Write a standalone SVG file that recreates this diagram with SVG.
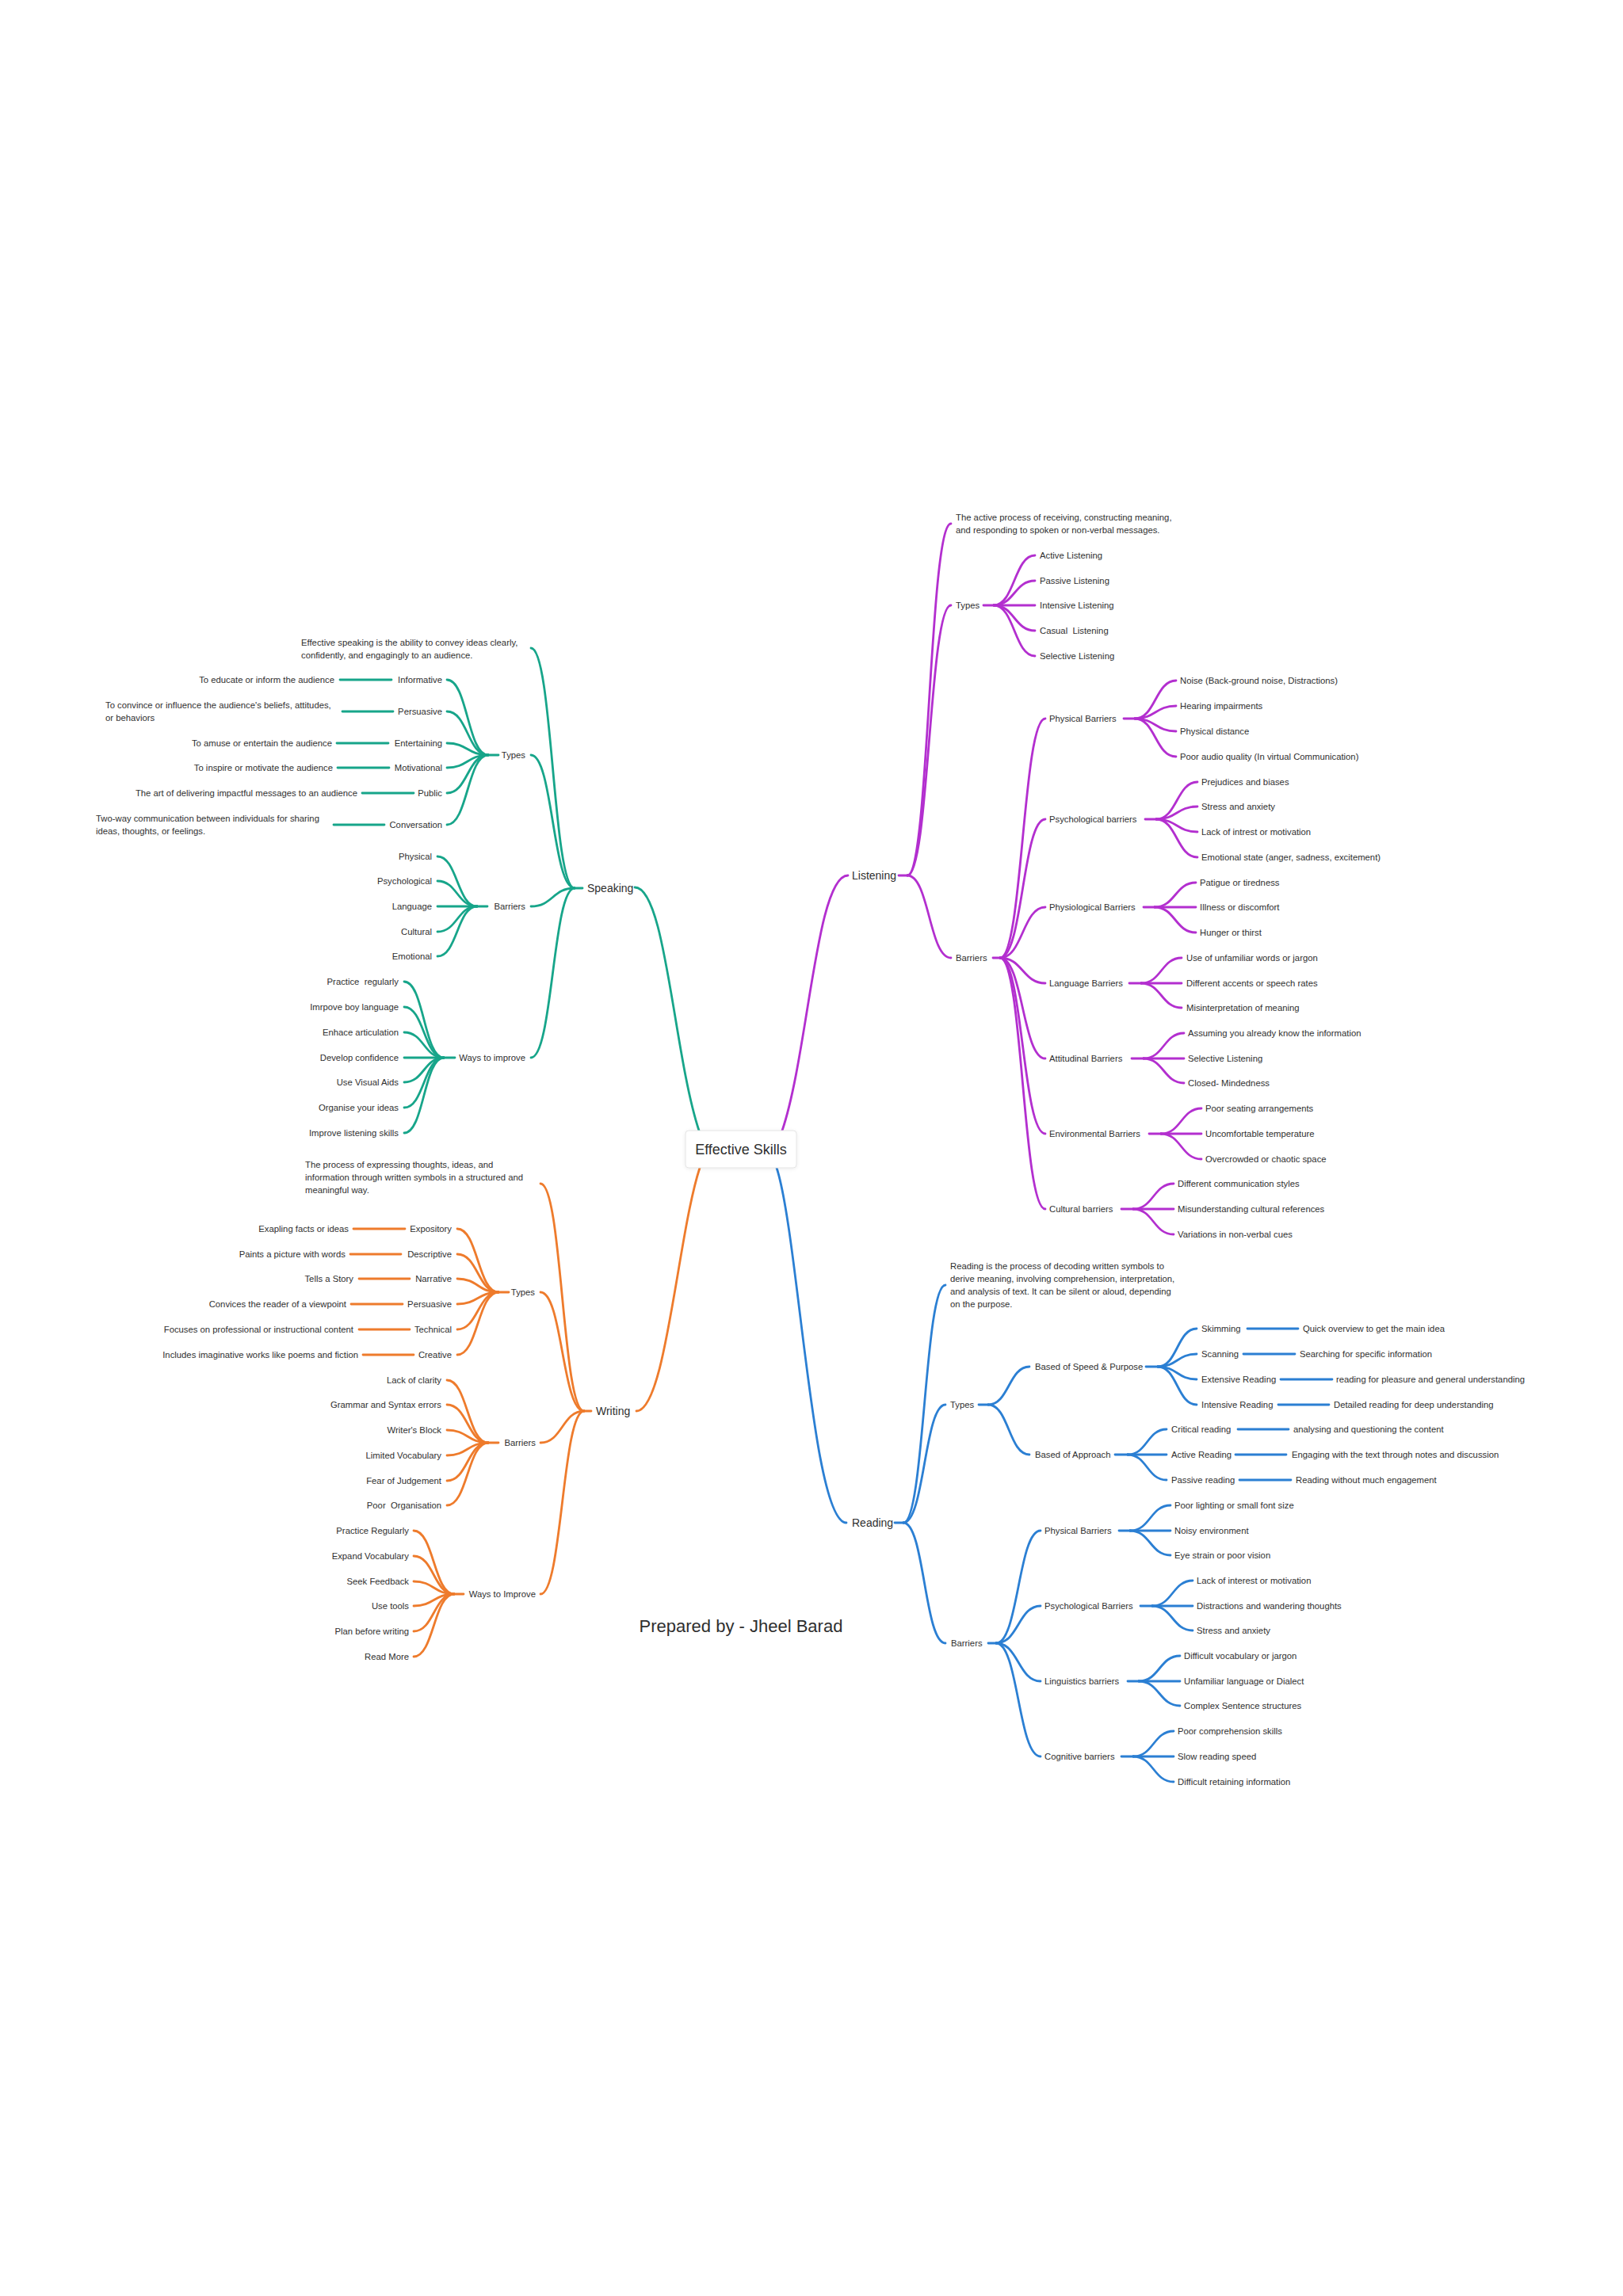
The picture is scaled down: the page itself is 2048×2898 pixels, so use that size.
<svg xmlns="http://www.w3.org/2000/svg" width="2048" height="2898" viewBox="0 0 2048 2898">
<style>
.t{font-family:"Liberation Sans",Arial,sans-serif;font-size:11.3px;fill:#2f2f2f;dominant-baseline:central}
.e{text-anchor:end}
.m{font-size:14px}
.c{fill:none;stroke-width:2.8;stroke-linecap:round}
.p{stroke:#b32fcf}.g{stroke:#17a58a}.o{stroke:#ee7b2c}.b{stroke:#2b7fd3}
</style>
<defs>
<filter id="sh" x="-20%" y="-30%" width="140%" height="160%"><feDropShadow dx="0" dy="1" stdDeviation="2" flood-color="#000" flood-opacity="0.08"/></filter>
</defs>
<rect width="2048" height="2898" fill="#fff"/>
<g id="connectors">
<g class="c p">
<path d="M1070 1105 C1030 1105 1020 1330 987 1427"/>
<path d="M1134 1105 H1145"/>
<path d="M1145 1105 C1172.5 1105 1172.5 661 1200 661"/>
<path d="M1145 1105 C1172.5 1105 1172.5 764 1200 764"/>
<path d="M1145 1105 C1172.5 1105 1172.5 1209 1200 1209"/>
<path d="M1241 764 H1254"/>
<path d="M1254 764 C1280 764 1280 701 1306 701"/>
<path d="M1254 764 C1280 764 1280 733 1306 733"/>
<path d="M1254 764 H1306"/>
<path d="M1254 764 C1280 764 1280 796 1306 796"/>
<path d="M1254 764 C1280 764 1280 828 1306 828"/>
<path d="M1253 1209 H1262"/>
<path d="M1262 1209 C1290.5 1209 1290.5 907 1319 907"/>
<path d="M1262 1209 C1290.5 1209 1290.5 1034 1319 1034"/>
<path d="M1262 1209 C1290.5 1209 1290.5 1145 1319 1145"/>
<path d="M1262 1209 C1290.5 1209 1290.5 1241 1319 1241"/>
<path d="M1262 1209 C1290.5 1209 1290.5 1336 1319 1336"/>
<path d="M1262 1209 C1290.5 1209 1290.5 1431 1319 1431"/>
<path d="M1262 1209 C1290.5 1209 1290.5 1526 1319 1526"/>
<path d="M1418 907 H1432"/>
<path d="M1432 907 C1458 907 1458 859 1484 859"/>
<path d="M1432 907 C1458 907 1458 891 1484 891"/>
<path d="M1432 907 C1458 907 1458 923 1484 923"/>
<path d="M1432 907 C1458 907 1458 955 1484 955"/>
<path d="M1445 1034 H1459"/>
<path d="M1459 1034 C1485 1034 1485 987 1511 987"/>
<path d="M1459 1034 C1485 1034 1485 1018 1511 1018"/>
<path d="M1459 1034 C1485 1034 1485 1050 1511 1050"/>
<path d="M1459 1034 C1485 1034 1485 1082 1511 1082"/>
<path d="M1443 1145 H1457"/>
<path d="M1457 1145 C1483 1145 1483 1114 1509 1114"/>
<path d="M1457 1145 H1509"/>
<path d="M1457 1145 C1483 1145 1483 1177 1509 1177"/>
<path d="M1425 1241 H1440"/>
<path d="M1440 1241 C1465.5 1241 1465.5 1209 1491 1209"/>
<path d="M1440 1241 H1491"/>
<path d="M1440 1241 C1465.5 1241 1465.5 1272 1491 1272"/>
<path d="M1428 1336 H1443"/>
<path d="M1443 1336 C1468.5 1336 1468.5 1304 1494 1304"/>
<path d="M1443 1336 H1494"/>
<path d="M1443 1336 C1468.5 1336 1468.5 1367 1494 1367"/>
<path d="M1450 1431 H1465"/>
<path d="M1465 1431 C1490.5 1431 1490.5 1399 1516 1399"/>
<path d="M1465 1431 H1516"/>
<path d="M1465 1431 C1490.5 1431 1490.5 1463 1516 1463"/>
<path d="M1415 1526 H1430"/>
<path d="M1430 1526 C1455.5 1526 1455.5 1494 1481 1494"/>
<path d="M1430 1526 H1481"/>
<path d="M1430 1526 C1455.5 1526 1455.5 1558 1481 1558"/>
</g>
<g class="c g">
<path d="M801 1120 C840 1120 850 1330 882 1427"/>
<path d="M735 1121 H725"/>
<path d="M725 1121 C697.5 1121 697.5 818 670 818"/>
<path d="M725 1121 C697.5 1121 697.5 953 670 953"/>
<path d="M725 1121 C697.5 1121 697.5 1144 670 1144"/>
<path d="M725 1121 C697.5 1121 697.5 1335 670 1335"/>
<path d="M629 953 H616"/>
<path d="M616 953 C590 953 590 858 564 858"/>
<path d="M616 953 C590 953 590 898 564 898"/>
<path d="M616 953 C590 953 590 938 564 938"/>
<path d="M616 953 C590 953 590 969 564 969"/>
<path d="M616 953 C590 953 590 1001 564 1001"/>
<path d="M616 953 C590 953 590 1041 564 1041"/>
<path d="M429 858 H494"/><path d="M432 898 H496"/><path d="M425 938 H490"/>
<path d="M426 969 H491"/><path d="M457 1001 H522"/><path d="M421 1041 H485"/>
<path d="M615 1144 H602"/>
<path d="M602 1144 C577 1144 577 1081 552 1081"/>
<path d="M602 1144 C577 1144 577 1112 552 1112"/>
<path d="M602 1144 H552"/>
<path d="M602 1144 C577 1144 577 1176 552 1176"/>
<path d="M602 1144 C577 1144 577 1207 552 1207"/>
<path d="M574 1335 H560"/>
<path d="M560 1335 C535 1335 535 1239 510 1239"/>
<path d="M560 1335 C535 1335 535 1271 510 1271"/>
<path d="M560 1335 C535 1335 535 1303 510 1303"/>
<path d="M560 1335 H510"/>
<path d="M560 1335 C535 1335 535 1366 510 1366"/>
<path d="M560 1335 C535 1335 535 1398 510 1398"/>
<path d="M560 1335 C535 1335 535 1430 510 1430"/>
</g>
<g class="c o">
<path d="M883 1474 C855 1560 840 1781 803 1781"/>
<path d="M746 1781 H737"/>
<path d="M737 1781 C709.5 1781 709.5 1494 682 1494"/>
<path d="M737 1781 C709.5 1781 709.5 1631 682 1631"/>
<path d="M737 1781 C709.5 1781 709.5 1821 682 1821"/>
<path d="M737 1781 C709.5 1781 709.5 2012 682 2012"/>
<path d="M642 1631 H629"/>
<path d="M629 1631 C603 1631 603 1551 577 1551"/>
<path d="M629 1631 C603 1631 603 1583 577 1583"/>
<path d="M629 1631 C603 1631 603 1614 577 1614"/>
<path d="M629 1631 C603 1631 603 1646 577 1646"/>
<path d="M629 1631 C603 1631 603 1678 577 1678"/>
<path d="M629 1631 C603 1631 603 1710 577 1710"/>
<path d="M446 1551 H511"/><path d="M442 1583 H506"/><path d="M453 1614 H517"/>
<path d="M443 1646 H508"/><path d="M453 1678 H517"/><path d="M458 1710 H522"/>
<path d="M629 1821 H616"/>
<path d="M616 1821 C590 1821 590 1742 564 1742"/>
<path d="M616 1821 C590 1821 590 1773 564 1773"/>
<path d="M616 1821 C590 1821 590 1805 564 1805"/>
<path d="M616 1821 C590 1821 590 1837 564 1837"/>
<path d="M616 1821 C590 1821 590 1869 564 1869"/>
<path d="M616 1821 C590 1821 590 1900 564 1900"/>
<path d="M585 2012 H573"/>
<path d="M573 2012 C547.5 2012 547.5 1932 522 1932"/>
<path d="M573 2012 C547.5 2012 547.5 1964 522 1964"/>
<path d="M573 2012 C547.5 2012 547.5 1996 522 1996"/>
<path d="M573 2012 C547.5 2012 547.5 2027 522 2027"/>
<path d="M573 2012 C547.5 2012 547.5 2059 522 2059"/>
<path d="M573 2012 C547.5 2012 547.5 2091 522 2091"/>
</g>
<g class="c b">
<path d="M980 1474 C1008 1560 1025 1922 1068 1922"/>
<path d="M1129 1922 H1140"/>
<path d="M1140 1922 C1166.5 1922 1166.5 1622 1193 1622"/>
<path d="M1140 1922 C1166.5 1922 1166.5 1773 1193 1773"/>
<path d="M1140 1922 C1166.5 1922 1166.5 2074 1193 2074"/>
<path d="M1235 1773 H1247"/>
<path d="M1247 1773 C1273 1773 1273 1725 1299 1725"/>
<path d="M1247 1773 C1273 1773 1273 1836 1299 1836"/>
<path d="M1446 1725 H1461"/>
<path d="M1461 1725 C1485.5 1725 1485.5 1677 1510 1677"/>
<path d="M1461 1725 C1485.5 1725 1485.5 1709 1510 1709"/>
<path d="M1461 1725 C1485.5 1725 1485.5 1741 1510 1741"/>
<path d="M1461 1725 C1485.5 1725 1485.5 1773 1510 1773"/>
<path d="M1574 1677 H1638"/><path d="M1569 1709 H1634"/><path d="M1616 1741 H1681"/><path d="M1613 1773 H1677"/>
<path d="M1407 1836 H1423"/>
<path d="M1423 1836 C1447.5 1836 1447.5 1804 1472 1804"/>
<path d="M1423 1836 H1472"/>
<path d="M1423 1836 C1447.5 1836 1447.5 1868 1472 1868"/>
<path d="M1562 1804 H1626"/><path d="M1559 1836 H1623"/><path d="M1564 1868 H1629"/>
<path d="M1247 2074 H1257"/>
<path d="M1257 2074 C1285 2074 1285 1932 1313 1932"/>
<path d="M1257 2074 C1285 2074 1285 2027 1313 2027"/>
<path d="M1257 2074 C1285 2074 1285 2122 1313 2122"/>
<path d="M1257 2074 C1285 2074 1285 2217 1313 2217"/>
<path d="M1412 1932 H1426"/>
<path d="M1426 1932 C1451.5 1932 1451.5 1900 1477 1900"/>
<path d="M1426 1932 H1477"/>
<path d="M1426 1932 C1451.5 1932 1451.5 1963 1477 1963"/>
<path d="M1439 2027 H1454"/>
<path d="M1454 2027 C1479.5 2027 1479.5 1995 1505 1995"/>
<path d="M1454 2027 H1505"/>
<path d="M1454 2027 C1479.5 2027 1479.5 2058 1505 2058"/>
<path d="M1423 2122 H1437"/>
<path d="M1437 2122 C1463 2122 1463 2090 1489 2090"/>
<path d="M1437 2122 H1489"/>
<path d="M1437 2122 C1463 2122 1463 2153 1489 2153"/>
<path d="M1415 2217 H1430"/>
<path d="M1430 2217 C1455.5 2217 1455.5 2185 1481 2185"/>
<path d="M1430 2217 H1481"/>
<path d="M1430 2217 C1455.5 2217 1455.5 2249 1481 2249"/>
</g>
</g>

<g id="center">
<rect x="865" y="1427" width="140" height="47" rx="4" fill="#fff" stroke="#e4e4e4" filter="url(#sh)"/>
<text class="t" x="935" y="1451" text-anchor="middle" style="font-size:18px">Effective Skills</text>
</g>

<g id="listening">
<g id="l-root"><text class="t m" x="1075" y="1105">Listening</text></g>
<g id="l-desc"><text class="t" x="1206" y="653">The active process of receiving, constructing meaning,</text><text class="t" x="1206" y="669">and responding to spoken or non-verbal messages.</text></g>
<g id="l-types"><text class="t" x="1206" y="764">Types</text>
<text class="t" x="1312" y="701">Active Listening</text>
<text class="t" x="1312" y="733">Passive Listening</text>
<text class="t" x="1312" y="764">Intensive Listening</text>
<text class="t" x="1312" y="796" xml:space="preserve">Casual  Listening</text>
<text class="t" x="1312" y="828">Selective Listening</text></g>
<g id="l-barriers"><text class="t" x="1206" y="1209">Barriers</text></g>
<g id="l-phys"><text class="t" x="1324" y="907">Physical Barriers</text>
<text class="t" x="1489" y="859">Noise (Back-ground noise, Distractions)</text>
<text class="t" x="1489" y="891">Hearing impairments</text>
<text class="t" x="1489" y="923">Physical distance</text>
<text class="t" x="1489" y="955">Poor audio quality (In virtual Communication)</text></g>
<g id="l-psych"><text class="t" x="1324" y="1034">Psychological barriers</text>
<text class="t" x="1516" y="987">Prejudices and biases</text>
<text class="t" x="1516" y="1018">Stress and anxiety</text>
<text class="t" x="1516" y="1050">Lack of intrest or motivation</text>
<text class="t" x="1516" y="1082">Emotional state (anger, sadness, excitement)</text></g>
<g id="l-physio"><text class="t" x="1324" y="1145">Physiological Barriers</text>
<text class="t" x="1514" y="1114">Patigue or tiredness</text>
<text class="t" x="1514" y="1145">Illness or discomfort</text>
<text class="t" x="1514" y="1177">Hunger or thirst</text></g>
<g id="l-lang"><text class="t" x="1324" y="1241">Language Barriers</text>
<text class="t" x="1497" y="1209">Use of unfamiliar words or jargon</text>
<text class="t" x="1497" y="1241">Different accents or speech rates</text>
<text class="t" x="1497" y="1272">Misinterpretation of meaning</text></g>
<g id="l-att"><text class="t" x="1324" y="1336">Attitudinal Barriers</text>
<text class="t" x="1499" y="1304">Assuming you already know the information</text>
<text class="t" x="1499" y="1336">Selective Listening</text>
<text class="t" x="1499" y="1367">Closed- Mindedness</text></g>
<g id="l-env"><text class="t" x="1324" y="1431">Environmental Barriers</text>
<text class="t" x="1521" y="1399">Poor seating arrangements</text>
<text class="t" x="1521" y="1431">Uncomfortable temperature</text>
<text class="t" x="1521" y="1463">Overcrowded or chaotic space</text></g>
<g id="l-cult"><text class="t" x="1324" y="1526">Cultural barriers</text>
<text class="t" x="1486" y="1494">Different communication styles</text>
<text class="t" x="1486" y="1526">Misunderstanding cultural references</text>
<text class="t" x="1486" y="1558">Variations in non-verbal cues</text></g>
</g>

<g id="speaking">
<g id="s-root"><text class="t m" x="741" y="1121">Speaking</text></g>
<g id="s-desc"><text class="t" x="380" y="811">Effective speaking is the ability to convey ideas clearly,</text><text class="t" x="380" y="827">confidently, and engagingly to an audience.</text></g>
<g id="s-types"><text class="t e" x="663" y="953">Types</text>
<text class="t e" x="558" y="858">Informative</text><text class="t e" x="422" y="858">To educate or inform the audience</text>
<text class="t e" x="558" y="898">Persuasive</text><text class="t" x="133" y="890">To convince or influence the audience's beliefs, attitudes,</text><text class="t" x="133" y="906">or behaviors</text>
<text class="t e" x="558" y="938">Entertaining</text><text class="t e" x="419" y="938">To amuse or entertain the audience</text>
<text class="t e" x="558" y="969">Motivational</text><text class="t e" x="420" y="969">To inspire or motivate the audience</text>
<text class="t e" x="558" y="1001">Public</text><text class="t e" x="451" y="1001">The art of delivering impactful messages to an audience</text>
<text class="t e" x="558" y="1041">Conversation</text><text class="t" x="121" y="1033">Two-way communication between individuals for sharing</text><text class="t" x="121" y="1049">ideas, thoughts, or feelings.</text></g>
<g id="s-barriers"><text class="t e" x="663" y="1144">Barriers</text>
<text class="t e" x="545" y="1081">Physical</text>
<text class="t e" x="545" y="1112">Psychological</text>
<text class="t e" x="545" y="1144">Language</text>
<text class="t e" x="545" y="1176">Cultural</text>
<text class="t e" x="545" y="1207">Emotional</text></g>
<g id="s-ways"><text class="t e" x="663" y="1335">Ways to improve</text>
<text class="t e" x="503" y="1239" xml:space="preserve">Practice  regularly</text>
<text class="t e" x="503" y="1271">Imrpove boy language</text>
<text class="t e" x="503" y="1303">Enhace articulation</text>
<text class="t e" x="503" y="1335">Develop confidence</text>
<text class="t e" x="503" y="1366">Use Visual Aids</text>
<text class="t e" x="503" y="1398">Organise your ideas</text>
<text class="t e" x="503" y="1430">Improve listening skills</text></g>
</g>

<g id="writing">
<g id="w-root"><text class="t m" x="752" y="1781">Writing</text></g>
<g id="w-desc"><text class="t" x="385" y="1470">The process of expressing thoughts, ideas, and</text><text class="t" x="385" y="1486">information through written symbols in a structured and</text><text class="t" x="385" y="1502">meaningful way.</text></g>
<g id="w-types"><text class="t e" x="675" y="1631">Types</text>
<text class="t e" x="570" y="1551">Expository</text><text class="t e" x="440" y="1551">Exapling facts or ideas</text>
<text class="t e" x="570" y="1583">Descriptive</text><text class="t e" x="436" y="1583">Paints a picture with words</text>
<text class="t e" x="570" y="1614">Narrative</text><text class="t e" x="446" y="1614">Tells a Story</text>
<text class="t e" x="570" y="1646">Persuasive</text><text class="t e" x="437" y="1646">Convices the reader of a viewpoint</text>
<text class="t e" x="570" y="1678">Technical</text><text class="t e" x="446" y="1678">Focuses on professional or instructional content</text>
<text class="t e" x="570" y="1710">Creative</text><text class="t e" x="452" y="1710">Includes imaginative works like poems and fiction</text></g>
<g id="w-barriers"><text class="t e" x="676" y="1821">Barriers</text>
<text class="t e" x="557" y="1742">Lack of clarity</text>
<text class="t e" x="557" y="1773">Grammar and Syntax errors</text>
<text class="t e" x="557" y="1805">Writer's Block</text>
<text class="t e" x="557" y="1837">Limited Vocabulary</text>
<text class="t e" x="557" y="1869">Fear of Judgement</text>
<text class="t e" x="557" y="1900" xml:space="preserve">Poor  Organisation</text></g>
<g id="w-ways"><text class="t e" x="676" y="2012">Ways to Improve</text>
<text class="t e" x="516" y="1932">Practice Regularly</text>
<text class="t e" x="516" y="1964">Expand Vocabulary</text>
<text class="t e" x="516" y="1996">Seek Feedback</text>
<text class="t e" x="516" y="2027">Use tools</text>
<text class="t e" x="516" y="2059">Plan before writing</text>
<text class="t e" x="516" y="2091">Read More</text></g>
</g>

<g id="reading">
<g id="r-root"><text class="t m" x="1075" y="1922">Reading</text></g>
<g id="r-desc"><text class="t" x="1199" y="1598">Reading is the process of decoding written symbols to</text><text class="t" x="1199" y="1614">derive meaning, involving comprehension, interpretation,</text><text class="t" x="1199" y="1630">and analysis of text. It can be silent or aloud, depending</text><text class="t" x="1199" y="1646">on the purpose.</text></g>
<g id="r-types"><text class="t" x="1199" y="1773">Types</text></g>
<g id="r-speed"><text class="t" x="1306" y="1725">Based of Speed &amp; Purpose</text>
<text class="t" x="1516" y="1677">Skimming</text><text class="t" x="1644" y="1677">Quick overview to get the main idea</text>
<text class="t" x="1516" y="1709">Scanning</text><text class="t" x="1640" y="1709">Searching for specific information</text>
<text class="t" x="1516" y="1741">Extensive Reading</text><text class="t" x="1686" y="1741">reading for pleasure and general understanding</text>
<text class="t" x="1516" y="1773">Intensive Reading</text><text class="t" x="1683" y="1773">Detailed reading for deep understanding</text></g>
<g id="r-approach"><text class="t" x="1306" y="1836">Based of Approach</text>
<text class="t" x="1478" y="1804">Critical reading</text><text class="t" x="1632" y="1804">analysing and questioning the content</text>
<text class="t" x="1478" y="1836">Active Reading</text><text class="t" x="1630" y="1836">Engaging with the text through notes and discussion</text>
<text class="t" x="1478" y="1868">Passive reading</text><text class="t" x="1635" y="1868">Reading without much engagement</text></g>
<g id="r-barriers"><text class="t" x="1200" y="2074">Barriers</text></g>
<g id="r-phys"><text class="t" x="1318" y="1932">Physical Barriers</text>
<text class="t" x="1482" y="1900">Poor lighting or small font size</text>
<text class="t" x="1482" y="1932">Noisy environment</text>
<text class="t" x="1482" y="1963">Eye strain or poor vision</text></g>
<g id="r-psych"><text class="t" x="1318" y="2027">Psychological Barriers</text>
<text class="t" x="1510" y="1995">Lack of interest or motivation</text>
<text class="t" x="1510" y="2027">Distractions and wandering thoughts</text>
<text class="t" x="1510" y="2058">Stress and anxiety</text></g>
<g id="r-ling"><text class="t" x="1318" y="2122">Linguistics barriers</text>
<text class="t" x="1494" y="2090">Difficult vocabulary or jargon</text>
<text class="t" x="1494" y="2122">Unfamiliar language or Dialect</text>
<text class="t" x="1494" y="2153">Complex Sentence structures</text></g>
<g id="r-cog"><text class="t" x="1318" y="2217">Cognitive barriers</text>
<text class="t" x="1486" y="2185">Poor comprehension skills</text>
<text class="t" x="1486" y="2217">Slow reading speed</text>
<text class="t" x="1486" y="2249">Difficult retaining information</text></g>
</g>

<g id="credit"><text class="t" x="935" y="2052" text-anchor="middle" style="font-size:22px">Prepared by - Jheel Barad</text></g>
</svg>
